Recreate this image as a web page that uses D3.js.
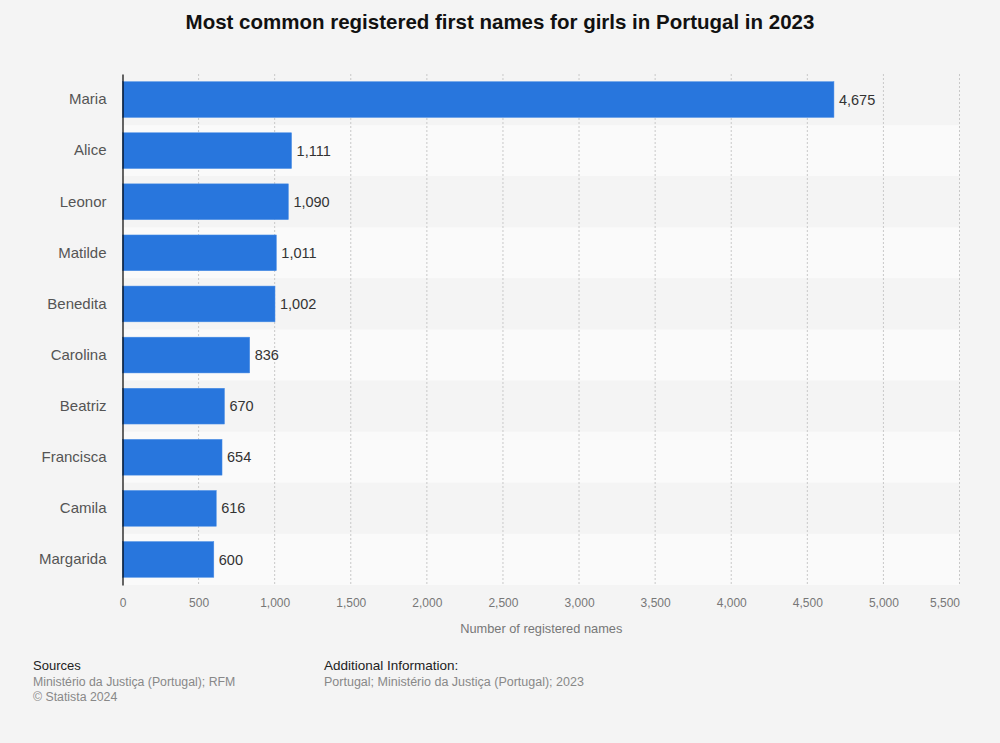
<!DOCTYPE html>
<html>
<head>
<meta charset="utf-8">
<script src="https://cdn.jsdelivr.net/npm/d3@7"></script>
<style>
  body { margin: 0; background: #f4f4f4; }
  text { font-family: "Liberation Sans", Arial, sans-serif; }
</style>
</head>
<body>
<div id="chart"></div>
<script>
// data
var names = ["Maria", "Alice", "Leonor", "Matilde", "Benedita", "Carolina", "Beatriz", "Francisca", "Camila", "Margarida"];
var counts = [4675, 1111, 1090, 1011, 1002, 836, 670, 654, 616, 600];
var xTicks = [0, 500, 1000, 1500, 2000, 2500, 3000, 3500, 4000, 4500, 5000, 5500];

var width = 1000, height = 743;
var margin = {top: 74, right: 40, bottom: 158, left: 122.5};
var w = width - margin.left - margin.right,
    h = height - margin.top - margin.bottom;

var svg = d3.select("#chart")
  .append("svg")
  .attr("width", width)
  .attr("height", height);

svg.append("rect").attr("width", width).attr("height", height).attr("fill", "#f4f4f4");

// title
svg.append("text")
  .attr("x", 500).attr("y", 29)
  .attr("text-anchor", "middle")
  .attr("font-size", "20.5px")
  .attr("font-weight", "bold")
  .attr("fill", "#111")
  .text("Most common registered first names for girls in Portugal in 2023");

var g = svg.append("g")
  .attr("transform", "translate(" + margin.left + "," + margin.top + ")");

var x = d3.scaleLinear().domain([0, 5500]).range([0, w - 0.5]);
var y = d3.scaleBand().domain(names).range([0, h]).paddingInner(0.3).paddingOuter(0.15);
var band = d3.scaleBand().domain(names).range([0, h]);

// alternating row bands
g.selectAll(".row")
  .data(names)
  .enter().append("rect")
  .attr("x", 0)
  .attr("y", function(d) { return band(d); })
  .attr("width", x(5500))
  .attr("height", band.bandwidth())
  .attr("fill", function(d, i) { return i % 2 ? "#fafafa" : "#f4f4f4"; });

// grid lines
g.selectAll(".grid")
  .data(xTicks.slice(1))
  .enter().append("line")
  .attr("x1", function(d) { return x(d); })
  .attr("x2", function(d) { return x(d); })
  .attr("y1", 0).attr("y2", h)
  .attr("stroke", "#c8c8c8")
  .attr("stroke-width", 1)
  .attr("stroke-dasharray", "2,2");

// bars
g.selectAll(".bar")
  .data(counts)
  .enter().append("rect")
  .attr("x", 0)
  .attr("y", function(d, i) { return y(names[i]); })
  .attr("width", function(d) { return x(d); })
  .attr("height", y.bandwidth())
  .attr("fill", "#2876dd")
  .attr("stroke", "#4a8ee6")
  .attr("stroke-width", 0.5);

// value labels
g.selectAll(".val")
  .data(counts)
  .enter().append("text")
  .attr("x", function(d) { return x(d) + 5; })
  .attr("y", function(d, i) { return y(names[i]) + y.bandwidth() / 2; })
  .attr("dy", "0.35em")
  .attr("font-size", "14.5px")
  .attr("fill", "#333")
  .text(function(d) { return d3.format(",")(d); });

// y axis
var yAxis = g.append("g")
  .call(d3.axisLeft(band).tickSize(0).tickPadding(16));
yAxis.select(".domain").attr("stroke", "#000").attr("stroke-width", 1.2);
yAxis.selectAll("text")
  .attr("font-size", "15px")
  .attr("fill", "#555")
  .style("font-family", "Liberation Sans, Arial, sans-serif");

// x axis
var xAxis = g.append("g")
  .attr("transform", "translate(0," + h + ")")
  .call(d3.axisBottom(x).tickValues(xTicks).tickSize(0).tickPadding(13).tickFormat(d3.format(",")));
xAxis.select(".domain").remove();
xAxis.selectAll("text")
  .attr("font-size", "12px")
  .attr("fill", "#777")
  .style("font-family", "Liberation Sans, Arial, sans-serif")
  .attr("text-anchor", function(d) { return d === 5500 ? "end" : "middle"; });

g.append("text")
  .attr("x", w / 2).attr("y", h + 48)
  .attr("text-anchor", "middle")
  .attr("font-size", "12.8px")
  .attr("fill", "#777")
  .text("Number of registered names");

// footer
var foot = svg.append("g");
foot.append("text").attr("x", 33).attr("y", 670).attr("font-size", "13px").attr("fill", "#222").text("Sources");
foot.append("text").attr("x", 33).attr("y", 686).attr("font-size", "12.3px").attr("fill", "#888").text("Ministério da Justiça (Portugal); RFM");
foot.append("text").attr("x", 33).attr("y", 701).attr("font-size", "12.3px").attr("fill", "#888").text("© Statista 2024");
foot.append("text").attr("x", 324).attr("y", 670).attr("font-size", "13.5px").attr("fill", "#222").text("Additional Information:");
foot.append("text").attr("x", 324).attr("y", 686).attr("font-size", "12.5px").attr("fill", "#888").text("Portugal; Ministério da Justiça (Portugal); 2023");
</script>
</body>
</html>
